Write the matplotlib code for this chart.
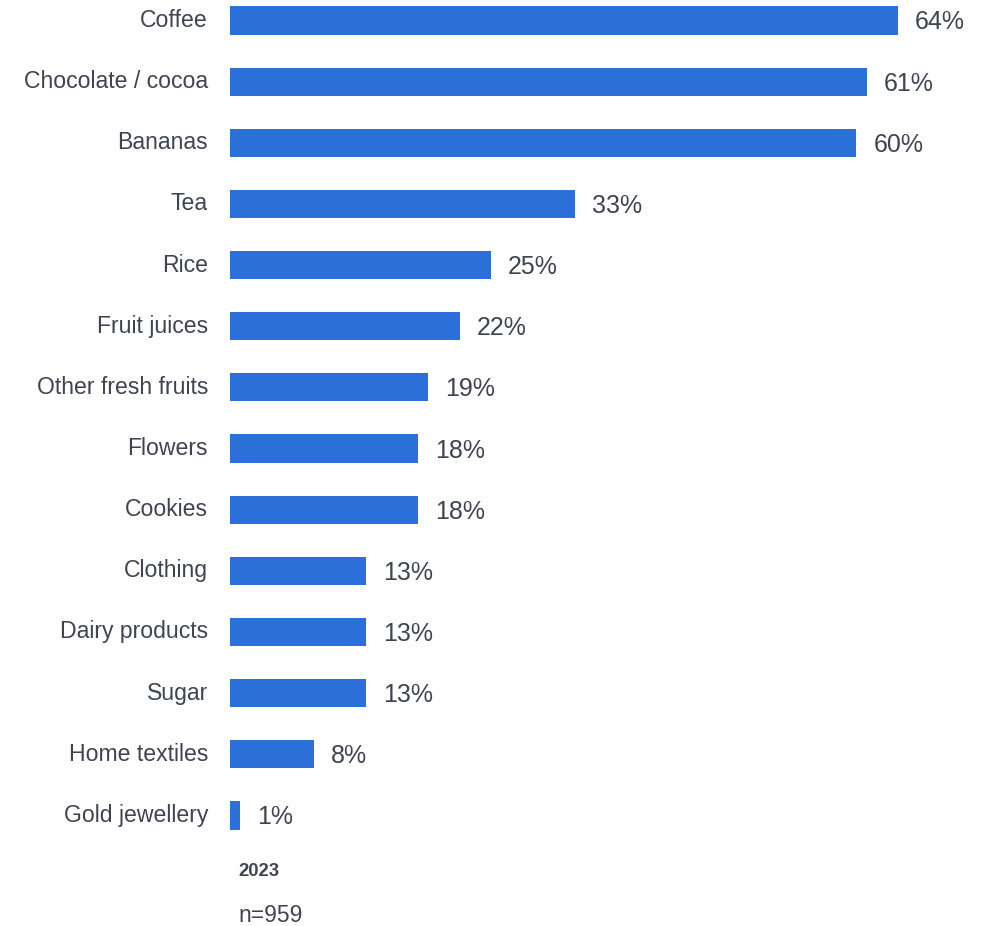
import matplotlib
matplotlib.use("Agg")
import matplotlib.pyplot as plt

categories = ["Coffee", "Chocolate / cocoa", "Bananas", "Tea", "Rice", "Fruit juices",
              "Other fresh fruits", "Flowers", "Cookies", "Clothing", "Dairy products",
              "Sugar", "Home textiles", "Gold jewellery"]
values = [64, 61, 60, 33, 25, 22, 19, 18, 18, 13, 13, 13, 8, 1]
year_label = "2023"
n_label = "n=959"

plt.rcParams['font.family'] = ['Liberation Sans', 'DejaVu Sans']
W, H = 999, 926
fig = plt.figure(figsize=(W / 100, H / 100), dpi=100)
fig.patch.set_facecolor("white")

left_px = 230
px_per_unit = 10.44
spacing = 61.15
first_center = 20.5
ax = fig.add_axes([left_px / W, 0, (W - left_px) / W, 1])
ax.set_xlim(0, (W - left_px) / px_per_unit)
ax.set_ylim((H - first_center) / spacing, -first_center / spacing)

bar_color = "#2B6FD9"
text_color = "#3F4450"
ypos = list(range(len(categories)))
ax.barh(ypos, values, height=0.46, color=bar_color)

for y, cat, v in zip(ypos, categories, values):
    ax.annotate(cat, xy=(0, y), xytext=(-22, 0), textcoords="offset pixels",
                ha="right", va="center", fontsize=16.6, color=text_color)
    ax.annotate(f"{v}%", xy=(v, y), xytext=(17, -2), textcoords="offset pixels",
                ha="left", va="center", fontsize=18, color=text_color)

fig.text(238 / W, 1 - 871 / H, year_label, ha="left", va="center", fontsize=13.3,
         fontweight="bold", color=text_color)
fig.text(238 / W, 1 - 915 / H, n_label, ha="left", va="center", fontsize=16.5,
         color=text_color)

ax.axis("off")
fig.savefig("out.png", dpi=100, facecolor="white")
